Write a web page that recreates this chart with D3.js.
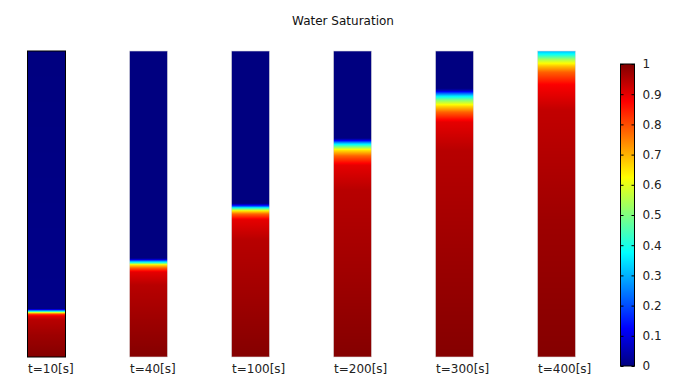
<!DOCTYPE html>
<html>
<head>
<meta charset="utf-8">
<script src="https://cdn.jsdelivr.net/npm/d3@7"></script>
<style>
body { margin: 0; background: #fff; }
svg { font-family: "DejaVu Sans", sans-serif; }
</style>
</head>
<body>
<svg width="690" height="388"></svg>
<script>
// time labels for each column
var times = ["t=10[s]", "t=40[s]", "t=100[s]", "t=200[s]", "t=300[s]", "t=400[s]"];

// saturation profiles: height (0 = bottom, 1 = top) and saturation
var z10  = [0, 0.072, 0.121, 0.134, 0.141, 0.144, 0.147, 0.150, 0.154, 0.157, 1];
var s10  = [0.995, 0.97, 0.945, 0.9, 0.8, 0.65, 0.5, 0.35, 0.15, 0.01, 0];
var z40  = [0, 0.121, 0.235, 0.278, 0.291, 0.301, 0.307, 0.314, 0.319, 0.324, 1];
var s40  = [0.995, 0.97, 0.945, 0.9, 0.78, 0.65, 0.45, 0.25, 0.05, 0, 0];
var z100 = [0, 0.186, 0.382, 0.448, 0.467, 0.477, 0.487, 0.493, 0.5, 0.503, 1];
var s100 = [0.995, 0.97, 0.945, 0.9, 0.78, 0.65, 0.4, 0.2, 0.03, 0, 0];
var z200 = [0, 0.252, 0.546, 0.627, 0.657, 0.676, 0.690, 0.699, 0.706, 0.712, 0.716, 1];
var s200 = [0.995, 0.97, 0.945, 0.9, 0.78, 0.65, 0.45, 0.3, 0.15, 0.03, 0, 0];
var z300 = [0, 0.35, 0.676, 0.768, 0.80, 0.82, 0.84, 0.853, 0.863, 0.869, 0.876, 0.879, 1];
var s300 = [0.995, 0.97, 0.945, 0.9, 0.78, 0.66, 0.5, 0.35, 0.2, 0.08, 0.01, 0, 0];
var z400 = [0, 0.448, 0.807, 0.889, 0.931, 0.951, 0.971, 0.987, 1];
var s400 = [0.995, 0.97, 0.935, 0.88, 0.78, 0.68, 0.55, 0.4, 0.3];

var heights = [z10, z40, z100, z200, z300, z400];
var sats = [s10, s40, s100, s200, s300, s400];

var cbTicks = [0, 0.1, 0.2, 0.3, 0.4, 0.5, 0.6, 0.7, 0.8, 0.9, 1];

var svg = d3.select("svg");
var defs = svg.append("defs");

function jet(v) {
  var c = function(x){ return Math.round(255 * Math.max(0, Math.min(1, x))); };
  return "rgb(" + c(1.5 - Math.abs(4*v - 3)) + "," + c(1.5 - Math.abs(4*v - 2)) + "," + c(1.5 - Math.abs(4*v - 1)) + ")";
}

var colW = 38;
var x = d3.scalePoint().domain(times).range([46.5, 556.5]);
var y = d3.scaleLinear().domain([0, 1]).range([357, 51]);
var samples = d3.range(0, 1.0001, 0.0025);

times.forEach(function(t, i) {
  var prof = d3.scaleLinear().domain(heights[i]).range(sats[i]).clamp(true);
  var g = defs.append("linearGradient")
    .attr("id", "col" + i)
    .attr("x1", 0).attr("x2", 0).attr("y1", 1).attr("y2", 0);
  g.selectAll("stop")
    .data(samples)
    .enter().append("stop")
    .attr("offset", function(d){ return d; })
    .attr("stop-color", function(d){ return jet(prof(d)); });
});

svg.selectAll("rect.col")
  .data(times)
  .enter().append("rect")
  .attr("class", "col")
  .attr("x", function(d){ return x(d) - colW/2; })
  .attr("y", y(1))
  .attr("width", colW)
  .attr("height", y(0) - y(1))
  .style("fill", function(d, i){ return "url(#col" + i + ")"; })
  .attr("stroke", function(d, i){ return i == 0 ? "#000" : "#ddd"; })
  .attr("stroke-width", function(d, i){ return i == 0 ? 1 : 0.6; });

// labels start at the left edge of each column
svg.selectAll("text.lab")
  .data(times)
  .enter().append("text")
  .attr("class", "lab")
  .attr("x", function(d){ return x(d) - colW/2 + 0.5; })
  .attr("y", 373)
  .attr("text-anchor", "start")
  .attr("font-size", 12)
  .attr("fill", "#222")
  .text(function(d){ return d; });

svg.append("text")
  .attr("x", 343)
  .attr("y", 25)
  .attr("text-anchor", "middle")
  .attr("font-size", 12)
  .attr("fill", "#111")
  .text("Water Saturation");

// colorbar
var cy = d3.scaleLinear().domain([0, 1]).range([366, 64]);
var cg = defs.append("linearGradient")
  .attr("id", "cbar")
  .attr("x1", 0).attr("x2", 0).attr("y1", 1).attr("y2", 0);
cg.selectAll("stop")
  .data(samples)
  .enter().append("stop")
  .attr("offset", function(d){ return d; })
  .attr("stop-color", function(d){ return jet(d); });

svg.append("rect")
  .attr("x", 620.5)
  .attr("y", cy(1))
  .attr("width", 14)
  .attr("height", cy(0) - cy(1))
  .style("fill", "url(#cbar)")
  .attr("stroke", "#000")
  .attr("stroke-width", 1);

var ax = svg.append("g")
  .attr("transform", "translate(634.5,0)")
  .call(d3.axisLeft(cy).tickValues(cbTicks).tickSize(3).tickFormat(""));
ax.select(".domain").remove();
var ax2 = svg.append("g")
  .attr("transform", "translate(620.5,0)")
  .call(d3.axisRight(cy).tickValues(cbTicks).tickSize(3).tickFormat(d3.format("")));
ax2.select(".domain").remove();
ax2.selectAll("text")
  .attr("x", 22)
  .attr("font-size", 12)
  .attr("font-family", "DejaVu Sans, sans-serif")
  .attr("text-anchor", "start")
  .attr("fill", "#222");
</script>
</body>
</html>
